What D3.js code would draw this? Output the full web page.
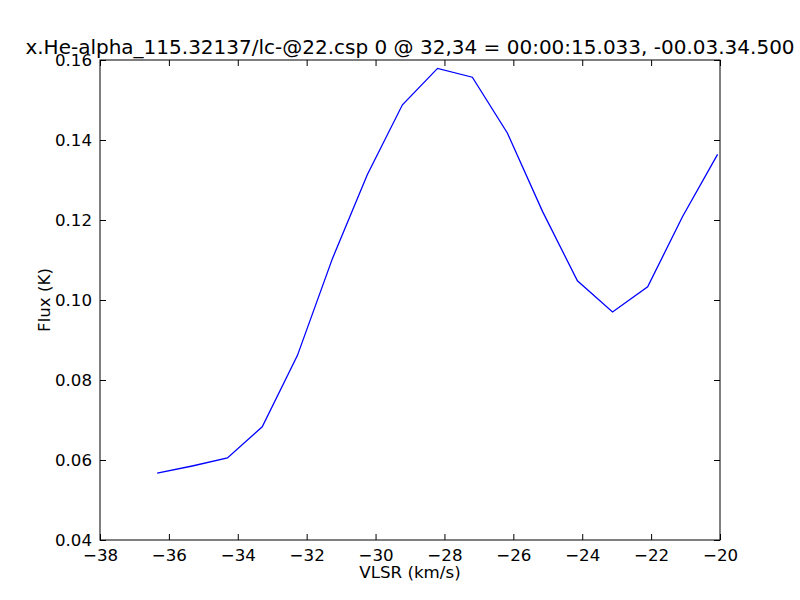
<!DOCTYPE html>
<html><head><meta charset="utf-8">
<script src="https://cdn.jsdelivr.net/npm/d3@7"></script>
<style>body{margin:0;background:#fff}svg{display:block}text{font-family:"DejaVu Sans",sans-serif;fill:#000}</style>
</head><body>
<script>
const vlsr = [-36.34, -35.32, -34.30, -33.29, -32.27, -31.25, -30.24, -29.22, -28.20, -27.19, -26.17, -25.15, -24.14, -23.12, -22.10, -21.09, -20.07];
const flux = [0.0567, 0.0585, 0.0605, 0.0683, 0.0861, 0.1104, 0.1313, 0.1488, 0.1579, 0.1557, 0.1417, 0.1221, 0.1048, 0.0970, 0.1033, 0.1208, 0.1364];
const xTicks = [-38, -36, -34, -32, -30, -28, -26, -24, -22, -20];
const yTicks = [0.04, 0.06, 0.08, 0.10, 0.12, 0.14, 0.16];
const title = "x.He-alpha_115.32137/lc-@22.csp 0 @ 32,34 = 00:00:15.033, -00.03.34.500";

const W = 800, H = 600, L = 100, R = 720, T = 60, B = 540;
const svg = d3.select("body").append("svg").attr("width", W).attr("height", H);
const x = d3.scaleLinear().domain([-38, -20]).range([L, R]);
const y = d3.scaleLinear().domain([0.04, 0.16]).range([B, T]);
const fmtX = d => (d < 0 ? "\u2212" + Math.abs(d) : String(d));
const fmtY = d => d3.format(".2f")(d);

svg.append("path").datum(vlsr.map((v, i) => [v, flux[i]]))
  .attr("fill", "none").attr("stroke", "#0000ff").attr("stroke-width", 1.3)
  .attr("d", d3.line().x(d => x(d[0])).y(d => y(d[1])));

const ts = 6;
const g = svg.append("g");
g.append("g").attr("transform", `translate(0,${B})`)
  .call(d3.axisBottom(x).tickValues(xTicks).tickSizeInner(-ts).tickSizeOuter(0).tickPadding(9).tickFormat(fmtX));
g.append("g").attr("transform", `translate(0,${T})`)
  .call(d3.axisTop(x).tickValues(xTicks).tickSizeInner(-ts).tickSizeOuter(0).tickFormat(""));
g.append("g").attr("transform", `translate(${L},0)`)
  .call(d3.axisLeft(y).tickValues(yTicks).tickSizeInner(-ts).tickSizeOuter(0).tickPadding(8).tickFormat(fmtY));
g.append("g").attr("transform", `translate(${R},0)`)
  .call(d3.axisRight(y).tickValues(yTicks).tickSizeInner(-ts).tickSizeOuter(0).tickFormat(""));
g.selectAll(".domain").remove();
g.selectAll(".tick line").attr("stroke", "#000").attr("stroke-width", 1);
g.selectAll(".tick text").attr("font-size", "16.67px").attr("font-family", "DejaVu Sans").attr("fill", "#000");

svg.append("rect").attr("x", L).attr("y", T).attr("width", R - L).attr("height", B - T)
  .attr("fill", "none").attr("stroke", "#000").attr("stroke-width", 1);

svg.append("text").attr("x", 410).attr("y", 54).attr("text-anchor", "middle")
  .attr("font-size", "20px").text(title);
svg.append("text").attr("x", 410).attr("y", 578).attr("text-anchor", "middle")
  .attr("font-size", "16.67px").text("VLSR (km/s)");
svg.append("text").attr("transform", "translate(50,300) rotate(-90)").attr("text-anchor", "middle")
  .attr("font-size", "16.67px").text("Flux (K)");
</script>
</body></html>
